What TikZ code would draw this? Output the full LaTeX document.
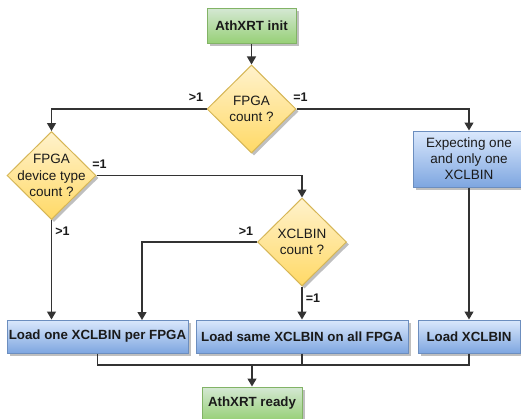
\documentclass[tikz,border=0pt]{standalone}
\usepackage{fontspec}
\setmainfont{Liberation Sans}
\usetikzlibrary{arrows.meta,shapes.geometric,shadows,calc}
\definecolor{gfill1}{HTML}{D5E8D4}
\definecolor{gfill2}{HTML}{97D077}
\definecolor{gline}{HTML}{82B366}
\definecolor{bfill1}{HTML}{DAE8FC}
\definecolor{bfill2}{HTML}{7EA6E0}
\definecolor{bline}{HTML}{6C8EBF}
\definecolor{yfill1}{HTML}{FFF2CC}
\definecolor{yfill2}{HTML}{FFD966}
\definecolor{yline}{HTML}{D6B656}
\definecolor{conn}{HTML}{333333}
\definecolor{txt}{HTML}{1A1A1A}
\tikzset{
  shad/.style={drop shadow={shadow xshift=2.5pt,shadow yshift=-2.5pt,opacity=0.25,fill=black}},
  gbox/.style={rectangle,draw=gline,line width=1pt,top color=gfill1,bottom color=gfill2,shad,inner sep=0pt,text=txt,font=\fontsize{13.3}{16.6}\selectfont\bfseries},
  bbox/.style={rectangle,draw=bline,line width=1pt,top color=bfill1,bottom color=bfill2,shad,inner sep=0pt,text=txt,font=\fontsize{13.3}{16.6}\selectfont\bfseries,align=center},
  dia/.style={diamond,draw=yline,line width=1pt,top color=yfill1,bottom color=yfill2,shad,inner sep=0pt,minimum width=89pt,minimum height=88pt},
  dtext/.style={text=txt,font=\fontsize{13.5}{16.6}\selectfont,align=center,inner sep=0pt},
  lbl/.style={text=txt,font=\fontsize{12.5}{14}\selectfont\bfseries,inner sep=0pt},
  con/.style={draw=conn,line width=1.3pt},
  arr/.style={con,-{Triangle[length=8pt,width=9pt]}}
}
\begin{document}
\begin{tikzpicture}[x=1pt,y=-1pt]
\useasboundingbox (0,0) rectangle (521,418);
\clip (0,0) rectangle (521,418);
\node[gbox,minimum width=89pt,minimum height=35pt] (init) at (251.5,25.5) {AthXRT init};
\node[dia] (q1) at (251.5,109) {};
\node[dtext] at (q1) {FPGA\\count ?};
\node[dia] (q2) at (51.5,175.5) {};
\node[dtext] at (q2) {FPGA\\device type\\count ?};
\node[dia] (q3) at (302,242) {};
\node[dtext] at (q3) {XCLBIN\\count ?};
\node[bbox,minimum width=112pt,minimum height=56pt,font=\fontsize{13.5}{16}\selectfont] (exp) at (469,159) {Expecting one\\and only one\\XCLBIN};
\node[bbox,minimum width=181pt,minimum height=33pt] (b1) at (97.5,336.5) {Load one XCLBIN per FPGA};
\node[bbox,minimum width=212pt,minimum height=33pt] (b2) at (302,336.5) {Load same XCLBIN on all FPGA};
\node[bbox,minimum width=102pt,minimum height=33pt] (b3) at (469,336.5) {Load XCLBIN};
\node[gbox,minimum width=100pt,minimum height=33pt] (ready) at (252,403.5) {AthXRT ready};
\coordinate (b1x) at (142,320);
\coordinate (m) at (252,365);
\draw[arr] (init) -- (q1);
\draw[arr] (q1.west) -| (q2.north);
\draw[arr] (q1.east) -| (exp.north);
\draw[arr] (q2.east) -| (q3.north);
\draw[arr] (q2.south) -- (q2.south |- b1.north);
\draw[arr] (q3.west) -| (b1x);
\draw[arr] (q3.south) -- (b2.north);
\draw[arr] (exp.south) -- (b3.north);
\draw[con] (b1.south) |- (m);
\draw[con] (b3.south) |- (m);
\draw[con] (b2.south) -- (b2.south |- m);
\draw[arr] (m) -- (ready.north);
\node[lbl] at (196,97.5) {>1};
\node[lbl] at (300.5,97.5) {=1};
\node[lbl] at (99.5,164) {=1};
\node[lbl] at (62.5,231.5) {>1};
\node[lbl] at (246,231.5) {>1};
\node[lbl] at (313,298) {=1};
\end{tikzpicture}
\end{document}
